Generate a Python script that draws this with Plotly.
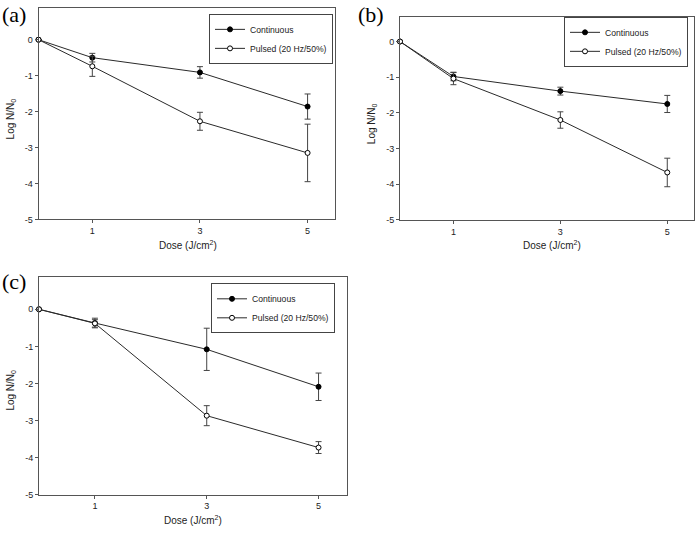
import plotly.graph_objects as go

W, H = 696, 534

dose = [0, 1, 3, 5]
x_ticks = [1, 3, 5]
x_tick_text = ["1", "3", "5"]
y_ticks = [0, -1, -2, -3, -4, -5]
y_tick_text = ["0", "-1", "-2", "-3", "-4", "-5"]

# Panel (a)
a_cont = [0, -0.50, -0.91, -1.86]
a_cont_err = [0, 0.12, 0.16, 0.35]
a_puls = [0, -0.74, -2.27, -3.15]
a_puls_err = [0, 0.28, 0.25, 0.80]

# Panel (b)
b_cont = [0, -0.98, -1.39, -1.75]
b_cont_err = [0, 0.12, 0.11, 0.24]
b_puls = [0, -1.04, -2.20, -3.67]
b_puls_err = [0, 0.17, 0.23, 0.40]

# Panel (c)
c_cont = [0, -0.37, -1.08, -2.09]
c_cont_err = [0, 0.13, 0.57, 0.37]
c_puls = [0, -0.38, -2.87, -3.73]
c_puls_err = [0, 0.10, 0.27, 0.16]

names = ["Continuous", "Pulsed (20 Hz/50%)"]
panel_labels = ["(a)", "(b)", "(c)"]

FONT = "Liberation Sans, Arial, sans-serif"
SERIF = "Liberation Serif, Times New Roman, serif"
LINE = "#2a2a2a"
AX = "#555555"

# panel pixel boxes: left, right, top, bottom ; y upper limit
panels = [
    dict(l=38.5, r=334.5, t=8.5, b=221.5, ytop=0.87, xa="x", ya="y", leg="legend",
         cont=a_cont, ce=a_cont_err, puls=a_puls, pe=a_puls_err,
         legbox=(333, 14), lab=(0, 0), xt=(188, 247)),
    dict(l=400, r=694, t=16.7, b=222, ytop=0.70, xa="x2", ya="y2", leg="legend2",
         cont=b_cont, ce=b_cont_err, puls=b_puls, pe=b_puls_err,
         legbox=(688, 17), lab=(356, 0), xt=(552, 247)),
    dict(l=39, r=346.5, t=279.3, b=499.3, ytop=0.88, xa="x3", ya="y3", leg="legend3",
         cont=c_cont, ce=c_cont_err, puls=c_puls, pe=c_puls_err,
         legbox=(335, 286), lab=(0, 270), xt=(193, 525)),
]

fig = go.Figure()
layout = dict(
    width=W, height=H, margin=dict(l=0, r=0, t=0, b=0),
    paper_bgcolor="white", plot_bgcolor="white",
    font=dict(family=FONT, size=9, color="#222222"),
    annotations=[],
)

for i, p in enumerate(panels):
    sfx = "" if i == 0 else str(i + 1)
    err_style = dict(type="data", visible=True, color="#444444", thickness=1, width=3)
    fig.add_trace(go.Scatter(
        x=dose, y=p["cont"], name=names[0], mode="lines+markers",
        error_y=dict(array=p["ce"], **err_style),
        line=dict(color=LINE, width=1),
        marker=dict(symbol="circle", size=5, color="black", line=dict(color="black", width=1)),
        xaxis=p["xa"], yaxis=p["ya"], legend=p["leg"], cliponaxis=False,
    ))
    fig.add_trace(go.Scatter(
        x=dose, y=p["puls"], name=names[1], mode="lines+markers",
        error_y=dict(array=p["pe"], **err_style),
        line=dict(color=LINE, width=1),
        marker=dict(symbol="circle", size=5, color="white", line=dict(color="black", width=1)),
        xaxis=p["xa"], yaxis=p["ya"], legend=p["leg"], cliponaxis=False,
    ))
    xd = [p["l"] / W, p["r"] / W]
    yd = [1 - p["b"] / H, 1 - p["t"] / H]
    layout["xaxis" + sfx] = dict(
        domain=xd, range=[0, 5.5], anchor=p["ya"],
        tickvals=x_ticks, ticktext=x_tick_text,
        ticks="outside", ticklen=3, tickcolor=AX, tickwidth=1,
        showline=True, linecolor=AX, linewidth=1, mirror=True,
        showgrid=False, zeroline=False,
        tickfont=dict(size=9, family=FONT, color="#222222"),
    )
    layout["yaxis" + sfx] = dict(
        domain=yd, range=[-5, p["ytop"]], anchor=p["xa"],
        tickvals=y_ticks, ticktext=y_tick_text,
        ticks="outside", ticklen=3, tickcolor=AX, tickwidth=1,
        showline=True, linecolor=AX, linewidth=1, mirror=True,
        showgrid=False, zeroline=False,
        tickfont=dict(size=9, family=FONT, color="#222222"),
    )
    lx, ly = p["legbox"]
    layout[p["leg"]] = dict(
        x=lx / W, y=1 - ly / H, xanchor="right", yanchor="top",
        bordercolor="#444444", borderwidth=1, bgcolor="white",
        font=dict(size=8.6, family=FONT, color="#222222"),
        itemwidth=30, tracegroupgap=0,
    )
    # y-axis title
    layout["annotations"].append(dict(
        text="Log N/N<sub>0</sub>", textangle=-90,
        x=(p["l"] - 28) / W, y=1 - ((p["t"] + p["b"]) / 2 + 5) / H,
        xref="paper", yref="paper", xanchor="center", yanchor="middle",
        showarrow=False, font=dict(size=10, family=FONT, color="#222222"),
    ))
    # x-axis title
    tx, ty = p["xt"]
    layout["annotations"].append(dict(
        text="Dose (J/cm<sup>2</sup>)",
        x=tx / W, y=1 - ty / H, xref="paper", yref="paper",
        xanchor="center", yanchor="middle",
        showarrow=False, font=dict(size=10, family=FONT, color="#222222"),
    ))
    # panel label
    lx2, ly2 = p["lab"]
    layout["annotations"].append(dict(
        text=panel_labels[i], x=lx2 / W, y=1 - ly2 / H,
        xref="paper", yref="paper", xanchor="left", yanchor="top",
        showarrow=False, font=dict(size=22, family=SERIF, color="black"),
    ))

fig.update_layout(**layout)
fig.write_html(
    "out.html",
    config={"displayModeBar": False},
    post_script="document.body.style.margin='0';document.body.style.padding='0';",
)
